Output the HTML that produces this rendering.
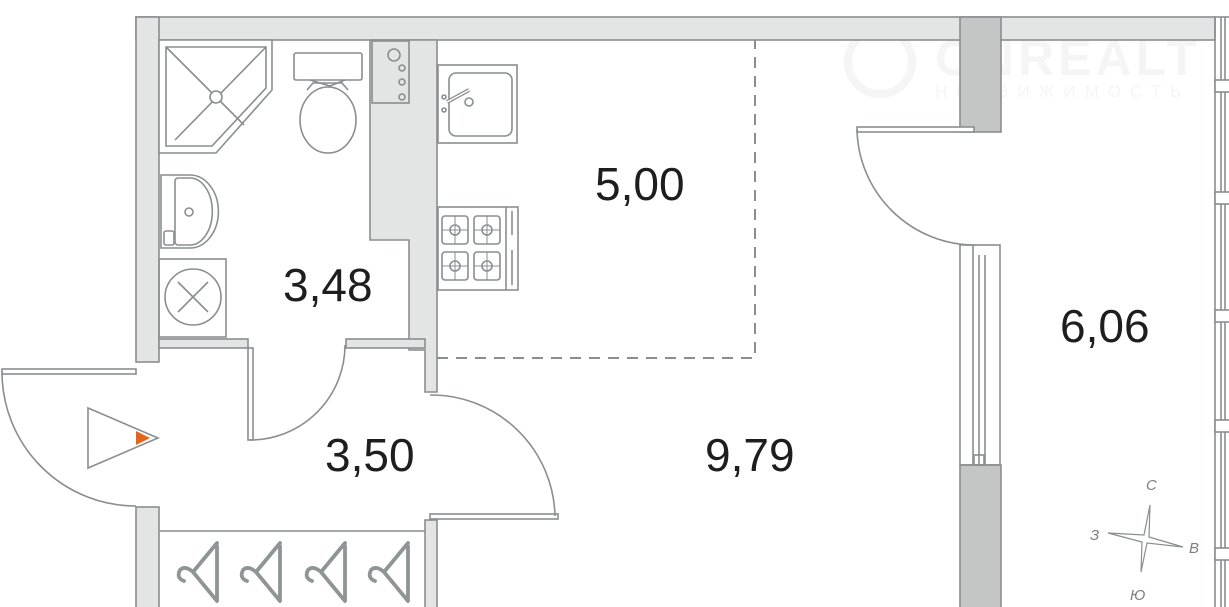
<!DOCTYPE html>
<html><head><meta charset="utf-8"><style>
html,body{margin:0;padding:0;background:#fff;}
svg{display:block;}
text{font-family:"Liberation Sans",sans-serif;}
</style></head><body>
<svg width="1229" height="607" viewBox="0 0 1229 607" xmlns="http://www.w3.org/2000/svg">
<!-- watermark -->
<g fill="#f5f5f5">
<text x="935" y="75" font-size="50" font-weight="bold" letter-spacing="4">ONREALT</text>
<text x="935" y="97" font-size="17" letter-spacing="9">НЕДВИЖИМОСТЬ</text>
<circle cx="880" cy="62" r="32" fill="none" stroke="#f5f5f5" stroke-width="8"/>
</g>
<g stroke="#8a8e8f" stroke-width="1.6">
<rect x="136" y="17" width="1079" height="23" fill="#e3e4e4"/>
<rect x="136" y="17" width="23" height="345" fill="#e3e4e4"/>
<rect x="137" y="18" width="21" height="21" fill="#e3e4e4" stroke="none"/>
<rect x="136" y="507" width="23" height="102" fill="#e3e4e4"/>
<path d="M370 40 H437 V392 H425 V350 H409 V240 H370 Z" fill="#e3e4e4"/>
<rect x="159" y="339" width="89" height="9" fill="#e3e4e4"/>
<rect x="346" y="339" width="79" height="9" fill="#e3e4e4"/>
<rect x="425" y="520" width="12" height="90" fill="#e3e4e4"/>
<rect x="960" y="17" width="41" height="115" fill="#c4c6c6"/>
<rect x="960" y="465" width="41" height="145" fill="#c4c6c6"/>
</g>
<g fill="none" stroke="#8a8e8f" stroke-width="1.6">
<rect x="960" y="245" width="40" height="220"/>
<line x1="973" y1="245" x2="973" y2="465"/>
<line x1="979" y1="255" x2="979" y2="465"/>
<line x1="985" y1="255" x2="985" y2="465"/>
<rect x="974" y="455" width="10" height="10"/>
<rect x="1215" y="17" width="16" height="600"/>
<line x1="1221" y1="17" x2="1221" y2="607"/>
<line x1="1225" y1="17" x2="1225" y2="607"/>
<g fill="#fff">
<rect x="1215" y="80" width="16" height="12"/>
<rect x="1215" y="192" width="16" height="12"/>
<rect x="1215" y="310" width="16" height="12"/>
<rect x="1215" y="420" width="16" height="12"/>
<rect x="1215" y="548" width="16" height="12"/>
</g>
<path d="M437 358 H755 V40" stroke-dasharray="11 8" stroke-width="2"/>
<rect x="2" y="369" width="134" height="5" fill="#fff"/>
<path d="M2 372 A134 134 0 0 0 136 506"/>
<rect x="248" y="348" width="5" height="92" fill="#fff"/>
<path d="M250 440 A95 95 0 0 0 345 345"/>
<rect x="430" y="514" width="128" height="5" fill="#fff"/>
<path d="M430 395 A124 124 0 0 1 555 516"/>
<rect x="857" y="127" width="117" height="5" fill="#fff"/>
<path d="M857 130 A118 118 0 0 0 975 245"/>
<line x1="159" y1="531" x2="425" y2="531"/>
<path d="M159 40 H272 V90 L216 153 H159 Z" fill="#fff"/>
<path d="M166 47 H266 V88 L212 146 H166 Z"/>
<line x1="166" y1="47" x2="244" y2="125"/>
<line x1="266" y1="47" x2="175" y2="140"/>
<circle cx="216" cy="97" r="6" fill="#fff"/>
<rect x="294" y="53" width="68" height="27" rx="2"/>
<path d="M310 80 L330 86 L345 80"/>
<path d="M307 90 L313 83 H342 L348 90"/>
<ellipse cx="328" cy="120" rx="28" ry="33" fill="#fff"/>
<rect x="372" y="41" width="37" height="62"/>
<circle cx="394" cy="55" r="6"/>
<circle cx="402" cy="68" r="3"/>
<circle cx="402" cy="82" r="3"/>
<circle cx="402" cy="97" r="3"/>
<path d="M161 175 H190 A28 36 0 0 1 190 248 H161 Z"/>
<path d="M178 178 H190 A22 33 0 0 1 190 245 H178 A3 3 0 0 1 175 242 V181 A3 3 0 0 1 178 178Z"/>
<circle cx="189" cy="212" r="4"/>
<rect x="164" y="231" width="10" height="14" rx="2"/>
<rect x="159" y="259" width="67" height="78"/>
<circle cx="193" cy="297" r="28"/>
<line x1="178" y1="282" x2="208" y2="312"/>
<line x1="208" y1="282" x2="178" y2="312"/>
<rect x="438" y="65" width="79" height="78"/>
<rect x="449" y="73" width="63" height="63" rx="7"/>
<line x1="447" y1="102" x2="469" y2="90" stroke-width="4"/>
<line x1="447" y1="102" x2="469" y2="90" stroke="#fff" stroke-width="1.5"/>
<circle cx="469" cy="102" r="4"/>
<circle cx="444" cy="97" r="2"/>
<circle cx="444" cy="110" r="2"/>
<rect x="438" y="207" width="80" height="83"/>
<line x1="506" y1="207" x2="506" y2="290"/>
<line x1="512" y1="211" x2="512" y2="235"/>
<line x1="512" y1="250" x2="512" y2="285"/>
<g>
<rect x="442" y="216" width="26" height="28" rx="3"/>
<rect x="474" y="216" width="26" height="28" rx="3"/>
<rect x="442" y="252" width="26" height="28" rx="3"/>
<rect x="474" y="252" width="26" height="28" rx="3"/>
<circle cx="455" cy="230" r="5"/><circle cx="487" cy="230" r="5"/>
<circle cx="455" cy="266" r="5"/><circle cx="487" cy="266" r="5"/>
<path d="M455 216V244M442 230H468M487 216V244M474 230H500M455 252V280M442 266H468M487 252V280M474 266H500" stroke-width="1"/>
</g>
<g stroke-width="3.8" stroke-linecap="round" stroke-linejoin="round" stroke="#8f9495">
<path d="M217 543 L193 572 L217 601 V546 M193 572 Q185 565 180 570 Q176 578 184 581"/>
<path d="M280 543 L256 572 L280 601 V546 M256 572 Q248 565 243 570 Q239 578 247 581"/>
<path d="M345 543 L321 572 L345 601 V546 M321 572 Q313 565 308 570 Q304 578 312 581"/>
<path d="M408 543 L384 572 L408 601 V546 M384 572 Q376 565 371 570 Q367 578 375 581"/>
</g>
<path d="M88 408 L158 438 L88 468 Z" fill="#fff"/>
<path d="M1150 505 L1144 535 L1108 533 L1142 542 L1141 572 L1147 543 L1183 547 L1149 537 Z" stroke-width="1.2"/>
</g>
<path d="M136 431 L150 438 L136 445 Z" fill="#e0661e"/>
<g fill="#1e1e1e" font-size="46">
<text x="595" y="200">5,00</text>
<text x="283" y="301">3,48</text>
<text x="325" y="471">3,50</text>
<text x="705" y="471">9,79</text>
<text x="1060" y="342">6,06</text>
</g>
<g fill="#7b7f80" font-size="15" font-style="italic">
<text x="1146" y="490">С</text>
<text x="1090" y="540">З</text>
<text x="1189" y="553">В</text>
<text x="1130" y="600">Ю</text>
</g>
</svg>
</body></html>
